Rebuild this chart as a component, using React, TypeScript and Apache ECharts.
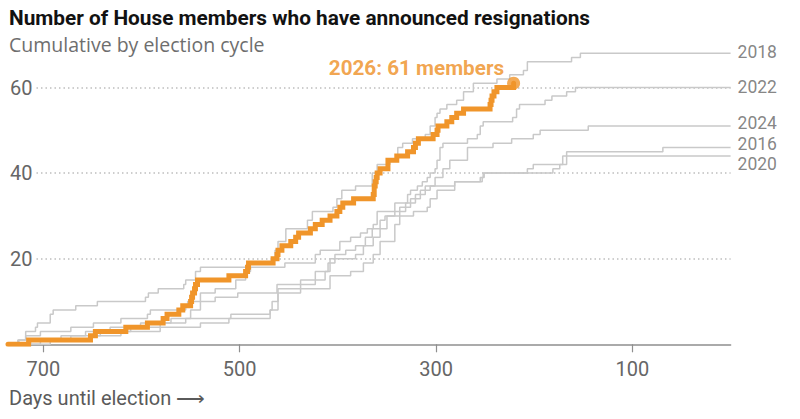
import React, { useEffect, useRef } from "react";
import * as echarts from "echarts";

// ---- Data: [days until election, cumulative announced resignations] ----
const cycle2026: [number, number][] = [
  [736, 0], [715, 1], [652, 2], [647, 3], [616, 4], [594, 5], [578, 6], [574, 7], [562, 8], [558, 9],
  [550, 10], [549, 11], [548, 12], [546, 13], [545, 14], [543, 15], [511, 16], [494, 17], [492, 18], [491, 19],
  [466, 20], [462, 21], [461, 22], [457, 23], [448, 24], [443, 25], [440, 26], [428, 27], [423, 28], [416, 29],
  [408, 30], [401, 31], [398, 32], [395, 33], [384, 34], [364, 35], [363, 37], [362, 38], [361, 39], [360, 40],
  [357, 41], [349, 43], [340, 44], [329, 45], [323, 46], [321, 47], [318, 48], [303, 49], [299, 50], [298, 51],
  [289, 52], [284, 53], [279, 54], [272, 55], [245, 56], [244, 57], [243, 58], [241, 59], [238, 60], [221, 61],
];

const cycle2018: [number, number][] = [
  [736, 0], [726, 1], [718, 3], [708, 4], [706, 5], [693, 7], [690, 8], [667, 9], [645, 10], [596, 11],
  [593, 12], [583, 13], [557, 14], [555, 15], [545, 17], [540, 18], [492, 19], [467, 20], [464, 22], [461, 24],
  [453, 27], [431, 29], [426, 31], [405, 32], [401, 34], [396, 36], [382, 37], [365, 40], [360, 42], [347, 43],
  [339, 46], [334, 47], [324, 48], [311, 49], [306, 51], [301, 53], [299, 54], [296, 55], [289, 56], [279, 57],
  [272, 59], [262, 61], [238, 62], [225, 63], [211, 64], [207, 66], [162, 67], [153, 68], [0, 68],
];

const cycle2022: [number, number][] = [
  [736, 0], [725, 1], [718, 2], [703, 3], [672, 4], [649, 5], [621, 6], [594, 7], [591, 8], [555, 9],
  [553, 10], [540, 12], [525, 13], [504, 15], [494, 17], [489, 18], [454, 19], [423, 21], [418, 22], [398, 24],
  [387, 25], [377, 26], [370, 27], [364, 28], [360, 31], [342, 33], [329, 35], [326, 36], [319, 37], [314, 38],
  [309, 39], [306, 40], [301, 41], [299, 43], [296, 46], [293, 47], [268, 48], [258, 49], [255, 51], [252, 52],
  [222, 53], [218, 55], [215, 56], [189, 57], [182, 58], [167, 59], [158, 60], [0, 60],
];

const cycle2024: [number, number][] = [
  [736, 0], [713, 1], [682, 2], [657, 3], [632, 4], [601, 5], [570, 6], [550, 8], [540, 10], [525, 11],
  [502, 12], [462, 14], [423, 17], [410, 19], [403, 21], [392, 22], [382, 23], [372, 25], [365, 27], [357, 29],
  [352, 30], [342, 31], [331, 33], [321, 35], [311, 37], [301, 39], [293, 41], [286, 43], [268, 46], [242, 47],
  [223, 48], [201, 49], [194, 50], [145, 51], [0, 51],
];

const cycle2016: [number, number][] = [
  [736, 0], [703, 1], [672, 2], [642, 3], [611, 4], [581, 5], [555, 6], [509, 7], [469, 8], [467, 10],
  [461, 13], [438, 15], [413, 17], [408, 20], [382, 21], [374, 23], [364, 25], [357, 27], [350, 30], [337, 32],
  [326, 34], [316, 36], [306, 37], [281, 38], [253, 39], [252, 40], [207, 41], [201, 42], [171, 44], [167, 45],
  [69, 46], [0, 46],
];

const cycle2020: [number, number][] = [
  [736, 0], [693, 1], [652, 2], [621, 3], [581, 4], [540, 5], [511, 6], [469, 8], [461, 12], [438, 13],
  [408, 16], [387, 17], [374, 19], [364, 21], [357, 24], [342, 28], [337, 30], [323, 31], [309, 32], [306, 34],
  [299, 36], [281, 38], [255, 39], [251, 40], [181, 41], [174, 42], [167, 44], [0, 44],
];

const grayCycles: { name: string; data: [number, number][] }[] = [
  { name: "2016", data: cycle2016 },
  { name: "2020", data: cycle2020 },
  { name: "2024", data: cycle2024 },
  { name: "2022", data: cycle2022 },
  { name: "2018", data: cycle2018 },
];

const xTickValues = [700, 500, 300, 100];
const yGridValues = [20, 40, 60];
const currentCycle = "2026";

const TITLE = "Number of House members who have announced resignations";
const SUBTITLE = "Cumulative by election cycle";
const X_NAME = "Days until election \u27F6";

const FONT = 'Roboto, "Noto Sans", sans-serif';
const SUB_FONT = '"Open Sans", Roboto, sans-serif';
const ORANGE = "#f0952a";
const GRAY_LINE = "#c9c9c9";
const LABEL_GRAY = "#666666";

const endLabelOffsets: Record<string, [number, number]> = {
  "2016": [0, -3.4],
  "2020": [0, 8.5],
  "2024": [0, -3],
  "2018": [0, -1],
  "2022": [0, -1],
};

export default function App() {
  const ref = useRef<HTMLDivElement>(null);

  useEffect(() => {
    if (!ref.current) return;
    const chart = echarts.init(ref.current, null, { renderer: "svg" });
    const last = cycle2026[cycle2026.length - 1];

    const graySeries = grayCycles.map((c) => ({
      name: c.name,
      type: "line",
      step: "end",
      data: c.data,
      symbol: "none",
      showSymbol: false,
      silent: true,
      lineStyle: { color: GRAY_LINE, width: 1.5 },
      z: 2,
    }));

    const endLabelSeries = {
      name: "cycle labels",
      type: "scatter",
      symbol: "circle",
      symbolSize: 0,
      silent: true,
      z: 3,
      data: grayCycles.map((c) => ({
        name: c.name,
        value: c.data[c.data.length - 1],
        label: { offset: endLabelOffsets[c.name] || [0, 0] },
      })),
      label: {
        show: true,
        position: "right",
        distance: 7,
        formatter: (p: any) => p.name,
        color: LABEL_GRAY,
        fontSize: 17.5,
        lineHeight: 15,
        fontFamily: FONT,
      },
    };

    chart.setOption({
      animation: false,
      backgroundColor: "#ffffff",
      grid: { left: 8, right: 69.4, top: 44.7, bottom: 74.7, containLabel: false },
      xAxis: {
        type: "value",
        inverse: true,
        min: 0,
        max: 736,
        axisLine: { show: true, lineStyle: { color: "#8f8f8f", width: 1.5 } },
        axisTick: { show: true, customValues: xTickValues, length: 8, lineStyle: { color: "#8f8f8f", width: 1.2 } },
        axisLabel: {
          customValues: xTickValues,
          color: LABEL_GRAY,
          fontSize: 20,
          fontFamily: FONT,
          margin: 15,
        },
        splitLine: { show: false },
      },
      yAxis: {
        type: "value",
        min: 0,
        max: 70,
        interval: 20,
        axisLine: { show: false },
        axisTick: { show: false },
        axisLabel: {
          inside: true,
          margin: 2,
          color: LABEL_GRAY,
          fontSize: 20,
          fontFamily: FONT,
          formatter: (v: number) => (yGridValues.includes(v) ? String(v) : ""),
        },
        splitLine: { show: false },
      },
      graphic: [
        {
          type: "text",
          x: 9,
          y: 18,
          style: { text: TITLE, fill: "#121212", fontSize: 20.8, fontWeight: "bold", fontFamily: FONT, verticalAlign: "middle" },
        },
        {
          type: "text",
          x: 9,
          y: 44.5,
          style: { text: SUBTITLE, fill: "#6e6e6e", fontSize: 19.5, fontFamily: SUB_FONT, verticalAlign: "middle" },
        },
        {
          type: "text",
          x: 9,
          y: 398,
          style: { text: X_NAME, fill: "#5a5a5a", fontSize: 20, fontFamily: FONT, verticalAlign: "middle" },
        },
      ],
      series: [
        ...graySeries,
        endLabelSeries,
        {
          name: currentCycle,
          type: "line",
          step: "end",
          data: cycle2026,
          symbol: "none",
          showSymbol: false,
          silent: true,
          lineStyle: { color: ORANGE, width: 5, cap: "round", join: "miter" },
          z: 5,
          markLine: {
            silent: true,
            symbol: ["none", "none"],
            label: { show: false },
            lineStyle: { color: "#bdbdbd", width: 1.5, type: [1.5, 3] },
            data: yGridValues.map((v) => [{ coord: [707, v] }, { coord: [0, v] }]),
            z: 1,
          },
        },
        {
          name: currentCycle + " latest",
          type: "scatter",
          data: [last],
          symbol: "circle",
          symbolSize: 13,
          silent: true,
          itemStyle: { color: ORANGE },
          z: 6,
          label: {
            show: true,
            position: "left",
            distance: 3,
            offset: [0, -15],
            formatter: `${currentCycle}: ${last[1]} members`,
            color: "#ee8e22",
            fontSize: 20.7,
            fontWeight: "bold",
            fontFamily: FONT,
          },
        },
      ],
    });

    return () => chart.dispose();
  }, []);

  return <div ref={ref} style={{ position: "fixed", left: 0, top: 0, width: 800, height: 419 }} />;
}
